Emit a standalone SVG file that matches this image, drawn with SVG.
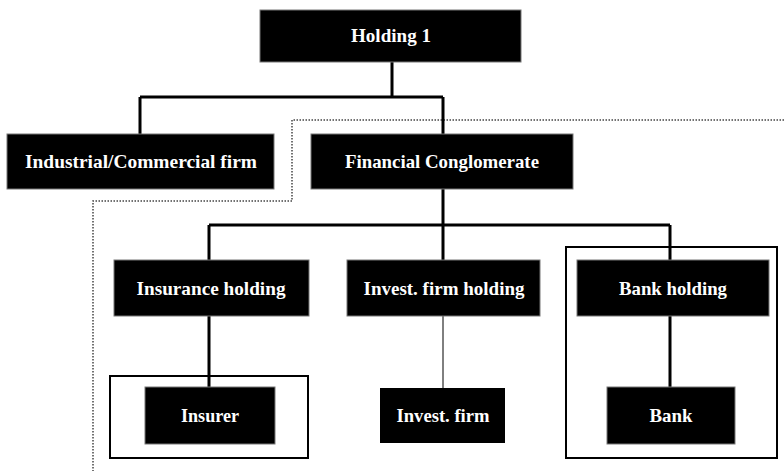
<svg xmlns="http://www.w3.org/2000/svg" width="784" height="471" viewBox="0 0 784 471">
<style>
.box{fill:#000;stroke:#777;stroke-width:1}
.lbl{fill:#fff;font-family:"Liberation Serif","Times New Roman",serif;font-weight:bold;font-size:19px;text-anchor:middle}
.conn{stroke:#000;stroke-width:3;fill:none}
.thin{stroke:#000;stroke-width:1;fill:none}
.frame{stroke:#000;stroke-width:2;fill:none}
.dot{stroke:#444;stroke-width:1.5;stroke-dasharray:1.5 1.5;fill:none}
</style>
<rect width="784" height="471" fill="#fff"/>
<g id="boundary">
<path class="dot" d="M784 120 H292 V201 H93 V471"/>
</g>
<g id="connectors">
<path class="conn" d="M392 62 V97 M140 97 H443 M140 97 V134 M443 97 V134"/>
<path class="conn" d="M443 189 V225 M209 225 H670 M209 225 V260 M443 225 V260 M670 225 V260"/>
<path class="conn" d="M209 316 V387 M670 316 V387"/>
<path class="thin" d="M443 316 V388"/>
</g>
<g id="group-insurer"><rect class="frame" x="110" y="376" width="198" height="82"/></g>
<g id="group-bank"><rect class="frame" x="566" y="247" width="211" height="211"/></g>
<g id="holding1"><rect class="box" x="260" y="10" width="261" height="52"/><text class="lbl" x="391" y="42" textLength="80" lengthAdjust="spacingAndGlyphs">Holding 1</text></g>
<g id="industrial"><rect class="box" x="7" y="134" width="267" height="55"/><text class="lbl" x="141" y="168" textLength="232" lengthAdjust="spacingAndGlyphs">Industrial/Commercial firm</text></g>
<g id="financial"><rect class="box" x="311" y="134" width="262" height="55"/><text class="lbl" x="442" y="168" textLength="194" lengthAdjust="spacingAndGlyphs">Financial Conglomerate</text></g>
<g id="insurance-holding"><rect class="box" x="114" y="260" width="195" height="56"/><text class="lbl" x="211" y="295" textLength="149" lengthAdjust="spacingAndGlyphs">Insurance holding</text></g>
<g id="invest-holding"><rect class="box" x="347" y="260" width="193" height="56"/><text class="lbl" x="444" y="295" textLength="161" lengthAdjust="spacingAndGlyphs">Invest. firm holding</text></g>
<g id="bank-holding"><rect class="box" x="577" y="260" width="192" height="56"/><text class="lbl" x="673" y="295" textLength="108" lengthAdjust="spacingAndGlyphs">Bank holding</text></g>
<g id="insurer"><rect class="box" x="145" y="387" width="130" height="57"/><text class="lbl" x="210" y="422" textLength="58" lengthAdjust="spacingAndGlyphs">Insurer</text></g>
<g id="invest-firm"><rect x="380" y="388" width="125" height="55" fill="#000"/><text class="lbl" x="443" y="422" textLength="93" lengthAdjust="spacingAndGlyphs">Invest. firm</text></g>
<g id="bank"><rect class="box" x="607" y="387" width="128" height="57"/><text class="lbl" x="671" y="422" textLength="43" lengthAdjust="spacingAndGlyphs">Bank</text></g>
</svg>
